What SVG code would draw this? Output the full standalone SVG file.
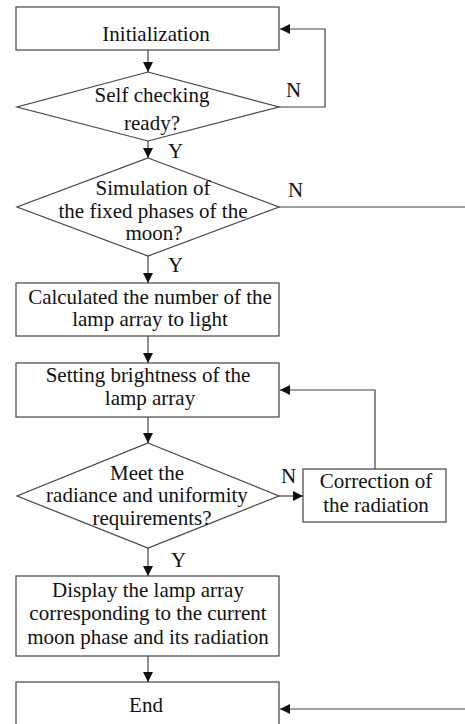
<svg xmlns="http://www.w3.org/2000/svg" width="465" height="724" viewBox="0 0 465 724">
<style>
.box{fill:#fff;stroke:#444;stroke-width:1.2}
.ln{fill:none;stroke:#444;stroke-width:1.2}
text{font-family:"Liberation Serif","Times New Roman",serif;font-size:21px;fill:#111;text-anchor:middle}
.lbl{text-anchor:start}
</style>
<defs>
<marker id="ah" markerUnits="userSpaceOnUse" markerWidth="11" markerHeight="10" refX="10" refY="5" orient="auto">
<path d="M0,0 L10,5 L0,10 Z" fill="#111"/>
</marker>
</defs>
<g id="connectors">
<path class="ln" d="M148,50 V72" marker-end="url(#ah)"/>
<path class="ln" d="M279,107 H325 V29 H280" marker-end="url(#ah)"/>
<path class="ln" d="M148,141 V158" marker-end="url(#ah)"/>
<path class="ln" d="M279,207 H465"/>
<path class="ln" d="M148,256 V283" marker-end="url(#ah)"/>
<path class="ln" d="M148,336 V363" marker-end="url(#ah)"/>
<path class="ln" d="M148,417 V443" marker-end="url(#ah)"/>
<path class="ln" d="M279,496 H303" marker-end="url(#ah)"/>
<path class="ln" d="M375,469 V390 H280" marker-end="url(#ah)"/>
<path class="ln" d="M148,548 V576" marker-end="url(#ah)"/>
<path class="ln" d="M148,656 V682" marker-end="url(#ah)"/>
<path class="ln" d="M465,709 H280" marker-end="url(#ah)"/>
<text class="lbl" x="286" y="97">N</text>
<text class="lbl" x="168" y="158">Y</text>
<text class="lbl" x="288" y="197">N</text>
<text class="lbl" x="168" y="272">Y</text>
<text class="lbl" x="281" y="483">N</text>
<text class="lbl" x="171" y="567">Y</text>
</g>
<g id="init">
<rect class="box" x="16" y="7" width="263" height="43"/>
<text x="156" y="41">Initialization</text>
</g>
<g id="selfcheck">
<polygon class="box" points="148,72 279,107 148,141 17,107"/>
<text x="152" y="102">Self checking</text>
<text x="152" y="130">ready?</text>
</g>
<g id="simulation">
<polygon class="box" points="148,158 279,207 148,256 17,207"/>
<text x="153" y="195">Simulation of</text>
<text x="153" y="218">the fixed phases of the</text>
<text x="154" y="240">moon?</text>
</g>
<g id="calculate">
<rect class="box" x="16" y="283" width="263" height="53"/>
<text x="150" y="304">Calculated the number of the</text>
<text x="150" y="326">lamp array to light</text>
</g>
<g id="brightness">
<rect class="box" x="16" y="363" width="263" height="54"/>
<text x="148" y="382">Setting brightness of the</text>
<text x="150" y="405">lamp array</text>
</g>
<g id="meet">
<polygon class="box" points="148,443 279,496 148,548 17,496"/>
<text x="147" y="480">Meet the</text>
<text x="147" y="502">radiance and uniformity</text>
<text x="152" y="525">requirements?</text>
</g>
<g id="correction">
<rect class="box" x="303" y="469" width="143" height="53"/>
<text x="376" y="488">Correction of</text>
<text x="376" y="512">the radiation</text>
</g>
<g id="display">
<rect class="box" x="16" y="576" width="263" height="80"/>
<text x="148" y="597">Display the lamp array</text>
<text x="148" y="620">corresponding to the current</text>
<text x="148" y="644">moon phase and its radiation</text>
</g>
<g id="end">
<rect class="box" x="16" y="682" width="263" height="50"/>
<text x="146" y="712">End</text>
</g>
</svg>
